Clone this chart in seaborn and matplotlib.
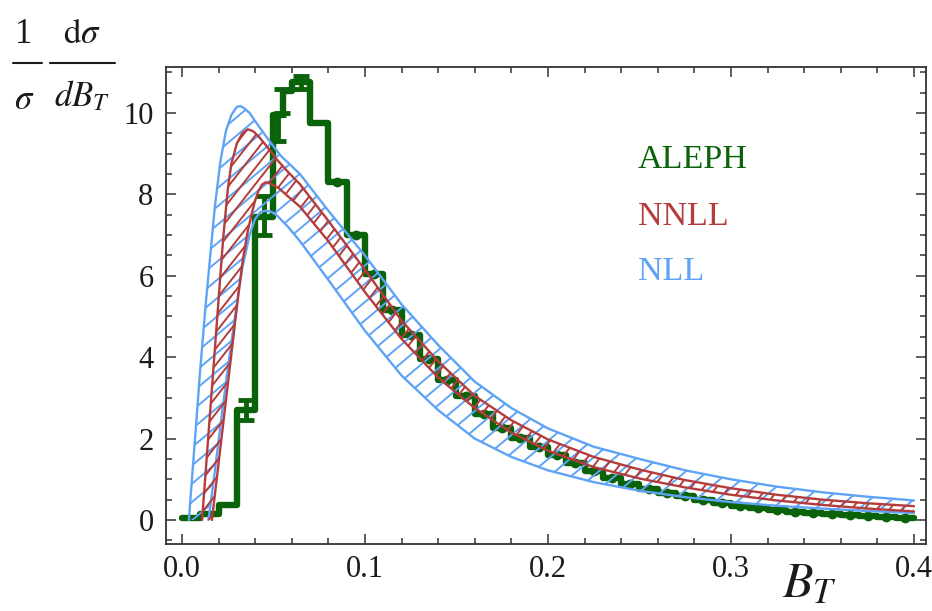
import numpy as np
import matplotlib
matplotlib.use("Agg")
import matplotlib.pyplot as plt
import seaborn as sns
from matplotlib.path import Path
from matplotlib.patches import PathPatch
from matplotlib.collections import LineCollection
from matplotlib.lines import Line2D
from matplotlib.ticker import MultipleLocator, FixedLocator

# ---------------- data ----------------
# ALEPH total broadening histogram: bin edges and normalised values
bin_edges = [0.00, 0.01, 0.02, 0.03, 0.04, 0.05, 0.055, 0.06, 0.07, 0.08,
             0.09, 0.10, 0.11, 0.12, 0.13, 0.14, 0.15, 0.16, 0.17, 0.18,
             0.19, 0.20, 0.21, 0.22, 0.23, 0.24, 0.25, 0.26, 0.27, 0.28,
             0.29, 0.30, 0.31, 0.32, 0.33, 0.34, 0.35, 0.36, 0.37, 0.38,
             0.39, 0.40]
aleph_vals = [0.05, 0.15, 0.38, 2.70, 7.45, 9.95, 10.55, 10.75, 9.75, 8.30,
              7.00, 6.05, 5.15, 4.55, 3.95, 3.45, 3.05, 2.60, 2.25, 2.02,
              1.80, 1.60, 1.40, 1.20, 1.02, 0.88, 0.76, 0.66, 0.58, 0.50,
              0.42, 0.35, 0.30, 0.25, 0.20, 0.17, 0.14, 0.12, 0.09, 0.07,
              0.05]
# visible error bars (position, low, high)
err_x = [0.035, 0.045, 0.0525, 0.0545, 0.065]
err_lo = [2.45, 7.00, 9.30, 10.00, 10.60]
err_hi = [2.95, 7.95, 9.95, 10.60, 10.90]

# NLL band: upper and lower edges
nll_hi_x = [0.0038, 0.007, 0.010, 0.013, 0.0153, 0.018, 0.021, 0.024, 0.027,
            0.030, 0.032, 0.034, 0.037, 0.040, 0.044, 0.048, 0.054, 0.0645,
            0.080, 0.100, 0.120, 0.140, 0.160, 0.180, 0.200, 0.225, 0.250,
            0.275, 0.300, 0.325, 0.350, 0.375, 0.400]
nll_hi_y = [0.0, 1.9, 3.7, 5.3, 6.4, 7.7, 8.8, 9.55, 9.95,
            10.15, 10.17, 10.12, 10.0, 9.8, 9.55, 9.3, 8.95, 8.5,
            7.6, 6.5, 5.3, 4.3, 3.4, 2.75, 2.25, 1.8, 1.5,
            1.22, 1.0, 0.82, 0.68, 0.57, 0.48]
nll_lo_x = [0.0145, 0.018, 0.021, 0.025, 0.029, 0.033, 0.037, 0.040, 0.043,
            0.046, 0.049, 0.052, 0.058, 0.0645, 0.080, 0.100, 0.120, 0.140,
            0.160, 0.180, 0.200, 0.225, 0.250, 0.275, 0.300, 0.325, 0.350,
            0.375, 0.400]
nll_lo_y = [0.0, 1.2, 2.3, 3.7, 5.0, 6.2, 7.0, 7.4, 7.57,
            7.6, 7.57, 7.48, 7.2, 6.85, 5.9, 4.65, 3.55, 2.7,
            2.0, 1.55, 1.22, 0.93, 0.72, 0.56, 0.44, 0.35, 0.28,
            0.22, 0.17]

# NNLL band: upper and lower edges
nnll_hi_x = [0.011, 0.014, 0.017, 0.020, 0.0225, 0.025, 0.027, 0.030, 0.033,
             0.036, 0.039, 0.042, 0.046, 0.052, 0.058, 0.0645, 0.080, 0.100,
             0.120, 0.140, 0.160, 0.180, 0.200, 0.225, 0.250, 0.275, 0.300,
             0.325, 0.350, 0.375, 0.400]
nnll_hi_y = [0.0, 1.8, 3.6, 5.4, 6.9, 8.1, 8.75, 9.25, 9.5,
             9.6, 9.55, 9.42, 9.2, 8.85, 8.55, 8.25, 7.35, 6.15,
             4.9, 3.9, 3.05, 2.45, 1.98, 1.55, 1.24, 0.98, 0.78,
             0.62, 0.50, 0.41, 0.34]
nnll_lo_x = [0.0164, 0.019, 0.022, 0.025, 0.028, 0.031, 0.0333, 0.036, 0.038,
             0.040, 0.042, 0.044, 0.046, 0.049, 0.053, 0.058, 0.0645, 0.080,
             0.100, 0.120, 0.140, 0.160, 0.180, 0.200, 0.225, 0.250, 0.275,
             0.300, 0.325, 0.350, 0.375, 0.400]
nnll_lo_y = [0.0, 1.0, 2.15, 3.3, 4.45, 5.6, 6.4, 7.1, 7.5,
             7.85, 8.1, 8.25, 8.3, 8.25, 8.15, 7.95, 7.7, 6.85,
             5.6, 4.45, 3.5, 2.75, 2.15, 1.7, 1.3, 1.02, 0.80,
             0.62, 0.48, 0.37, 0.28, 0.21]

x_ticks = [0.0, 0.1, 0.2, 0.3, 0.4]
x_ticklabels = ["0.0", "0.1", "0.2", "0.3", "0.4"]
y_ticks = [0, 2, 4, 6, 8, 10]

GREEN = "#0a620a"
RED = "#b43c3c"
BLUE = "#5fa3f6"
INK = "#1a1a1a"

# ---------------- style ----------------
sns.set_theme(style="ticks")
plt.rcParams["font.family"] = ["Liberation Serif", "DejaVu Serif"]
plt.rcParams["mathtext.fontset"] = "stix"

W_PX, H_PX = 932, 611
fig = plt.figure(figsize=(W_PX / 100, H_PX / 100), dpi=100)
ax_rect = [166 / W_PX, 1 - 544 / H_PX, (926 - 166) / W_PX, (544 - 67) / H_PX]
ax = fig.add_axes(ax_rect)
ax_w_px = ax_rect[2] * W_PX
ax_h_px = ax_rect[3] * H_PX


def hatched_band(ax, xu, yu, xl, yl, color, gap_px, angle_deg, lw, z):
    """Outline a band between two curves and fill it with parallel hatch lines."""
    xs = np.r_[xu, np.asarray(xl)[::-1], xu[0]]
    ys = np.r_[yu, np.asarray(yl)[::-1], yu[0]]
    path = Path(np.column_stack([xs, ys]), closed=True)
    patch = PathPatch(path, transform=ax.transData, facecolor="none",
                      edgecolor="none")
    ax.add_patch(patch)

    th = np.deg2rad(angle_deg)
    d = np.array([np.cos(th), np.sin(th)])
    n = np.array([-np.sin(th), np.cos(th)])
    corners = np.array([[0, 0], [ax_w_px, 0], [0, ax_h_px], [ax_w_px, ax_h_px]])
    proj = corners @ n
    L = np.hypot(ax_w_px, ax_h_px)
    segs = []
    for c in np.arange(proj.min(), proj.max() + gap_px, gap_px):
        p0 = c * n - L * d
        p1 = c * n + L * d
        segs.append([(p0[0] / ax_w_px, p0[1] / ax_h_px),
                     (p1[0] / ax_w_px, p1[1] / ax_h_px)])
    lc = LineCollection(segs, colors=color, linewidths=lw,
                        transform=ax.transAxes, zorder=z)
    ax.add_collection(lc)
    lc.set_clip_path(patch)

    sns.lineplot(x=xu, y=yu, ax=ax, color=color, lw=1.7, sort=False,
                 estimator=None, zorder=z + 0.1)
    sns.lineplot(x=xl, y=yl, ax=ax, color=color, lw=1.7, sort=False,
                 estimator=None, zorder=z + 0.1)


# ---------------- ALEPH histogram ----------------
step_y = aleph_vals + [aleph_vals[-1]]
sns.lineplot(x=bin_edges, y=step_y, ax=ax, color=GREEN,
             lw=4.6, drawstyle="steps-post", sort=False, estimator=None,
             zorder=2)
centers = [(a + b) / 2 for a, b in zip(bin_edges[:-1], bin_edges[1:])]
sns.scatterplot(x=centers[9:], y=aleph_vals[9:], ax=ax, color=GREEN, s=50,
                linewidth=0, zorder=2.1)
err_mid = [(lo + hi) / 2 for lo, hi in zip(err_lo, err_hi)]
err_half = [(hi - lo) / 2 for lo, hi in zip(err_lo, err_hi)]
ax.errorbar(err_x, err_mid, yerr=err_half, fmt="none", ecolor=GREEN,
            elinewidth=3.5, capsize=6, capthick=3.5, zorder=2.2)

# ---------------- theory bands ----------------
hatched_band(ax, nll_hi_x, nll_hi_y, nll_lo_x, nll_lo_y, BLUE,
             gap_px=14.0, angle_deg=40, lw=1.4, z=3)
hatched_band(ax, nnll_hi_x, nnll_hi_y, nnll_lo_x, nnll_lo_y, RED,
             gap_px=10.0, angle_deg=52, lw=1.4, z=4)

# ---------------- labels ----------------
ax.text(0.249, 8.65, "ALEPH", color=GREEN, fontsize=24.5, va="baseline")
ax.text(0.249, 7.25, "NNLL", color=RED, fontsize=24.5, va="baseline")
ax.text(0.249, 5.90, "NLL", color=BLUE, fontsize=24.5, va="baseline")


def fy(py):
    return 1 - py / H_PX


# y-axis quantity written as two stacked fractions
FR = 25
fig.text(24 / W_PX, fy(43), "1", fontsize=FR, ha="center", va="baseline",
         color=INK)
fig.text(24 / W_PX, fy(109), r"$\sigma$", fontsize=FR, ha="center",
         va="baseline", color=INK)
fig.text(82 / W_PX, fy(43), r"$\mathrm{d}\sigma$", fontsize=FR, ha="center",
         va="baseline", color=INK)
fig.text(82 / W_PX, fy(106), r"$dB_T$", fontsize=FR, ha="center",
         va="baseline", color=INK)
for x0, x1 in [(13, 42), (50, 115)]:
    fig.add_artist(Line2D([x0 / W_PX, x1 / W_PX], [fy(63), fy(63)],
                          color=INK, lw=1.5, transform=fig.transFigure))

fig.text(810 / W_PX, fy(585), r"$B_T$", fontsize=36, ha="center",
         va="center", color=INK)

# ---------------- axes / frame ----------------
ax.set_xlim(-0.0087, 0.4066)
ax.set_ylim(-0.59, 11.13)
ax.set_xlabel("")
ax.set_ylabel("")
ax.xaxis.set_major_locator(FixedLocator(x_ticks))
ax.set_xticklabels(x_ticklabels)
ax.yaxis.set_major_locator(FixedLocator(y_ticks))
ax.xaxis.set_minor_locator(MultipleLocator(0.02))
ax.yaxis.set_minor_locator(MultipleLocator(0.5))
ax.tick_params(which="both", direction="in", top=True, right=True,
               color="#333333", width=1.1, labelsize=22, labelcolor=INK)
ax.tick_params(which="major", length=7)
ax.tick_params(which="minor", length=4)
ax.tick_params(axis="x", which="major", pad=8)
ax.tick_params(axis="y", which="major", pad=9)
for s in ax.spines.values():
    s.set_color("#333333")
    s.set_linewidth(1.3)

fig.savefig("out.png", dpi=100)
